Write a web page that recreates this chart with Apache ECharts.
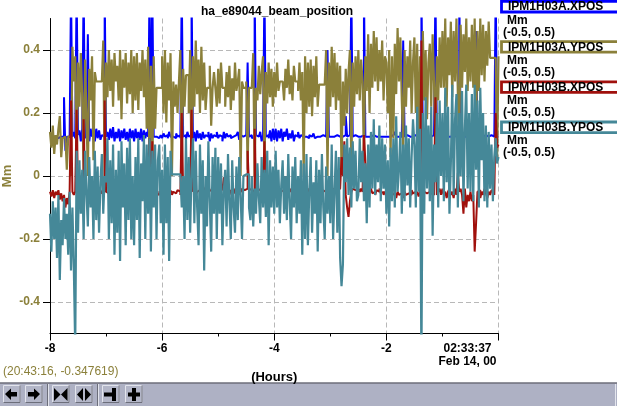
<!DOCTYPE html>
<html>
<head>
<meta charset="utf-8">
<title>ha_e89044_beam_position</title>
<script src="https://cdn.jsdelivr.net/npm/echarts@6/dist/echarts.min.js"></script>
<style>
html, body { margin: 0; padding: 0; background: #fff; }
#chart { width: 617px; height: 406px; }
</style>
</head>
<body>
<div id="chart"></div>
<script>
// archive samples: one point every 0.025 h, from -8 h up to now (0 h)
var startHour = -8;
var stepHour = 0.025;

var seriesNames = ['IPM1H03A.XPOS', 'IPM1H03A.YPOS', 'IPM1H03B.XPOS', 'IPM1H03B.YPOS'];
var seriesColors = ['#0000ff', '#8b803a', '#a0100c', '#458898'];
var seriesWidths = [2, 2.2, 2, 2.2];
var unitText = 'Mm';
var rangeText = '(-0.5, 0.5)';

var yTicks = [-0.4, -0.2, 0, 0.2, 0.4];
var lastTickLabel = ['02:33:37', 'Feb 14, 00'];
var cursorText = '(20:43:16, -0.347619)';

var xposA = [
    0.125, 0.125, 0.125, 0.125, 0.125, 0.12, 0.12, 0.125, 0.125, 0.125, 0.25, 0.08, 0.125, 0.125, 0.125, 0.6, 0.125, 0.14, 0.12, 0.6,
    0.13, 0.145, 0.11, 0.15, 0.6, 0.12, 0.14, 0.45, 0.11, 0.15, 0.125, 0.14, 0.11, 0.15, 0.12, 0.145, 0.115, 0.13, 0.125, 0.6,
    0.125, 0.14, 0.115, 0.15, 0.12, 0.155, 0.11, 0.14, 0.12, 0.15, 0.11, 0.145, 0.12, 0.15, 0.115, 0.14, 0.11, 0.15, 0.12, 0.145,
    0.11, 0.15, 0.12, 0.14, 0.115, 0.15, 0.11, 0.145, 0.12, 0.14, 0.125, 0.6, 0.125, 0.6, 0.125, 0.125, 0.13, 0.12, 0.125, 0.13,
    0.12, 0.135, 0.125, 0.13, 0.12, 0.14, 0.125, 0.125, 0.13, 0.12, 0.135, 0.125, 0.13, 0.12, 0.6, 0.125, 0.13, 0.115, 0.14, 0.125,
    0.13, 0.6, 0.12, 0.14, 0.11, 0.145, 0.12, 0.135, 0.115, 0.14, 0.12, 0.13, 0.125, 0.14, 0.11, 0.135, 0.12, 0.13, 0.125, 0.14,
    0.12, 0.13, 0.125, 0.11, 0.14, 0.12, 0.135, 0.125, 0.13, 0.12, 0.125, 0.125, 0.13, 0.125, 0.14, 0.115, 0.13, 0.125, 0.125, 0.13,
    0.125, 0.36, 0.125, 0.13, 0.12, 0.125, 0.6, 0.13, 0.125, 0.12, 0.14, 0.11, 0.13, 0.6, 0.125, 0.13, 0.12, 0.145, 0.11, 0.15,
    0.115, 0.15, 0.11, 0.145, 0.12, 0.15, 0.11, 0.14, 0.125, 0.15, 0.115, 0.135, 0.12, 0.145, 0.11, 0.13, 0.125, 0.14, 0.12, 0.13,
    0.125, 0.13, 0.125, 0.125, 0.12, 0.13, 0.125, 0.125, 0.135, 0.12, 0.125, 0.13, 0.125, 0.125, 0.13, 0.125, 0.125, 0.13, 0.4, 0.125,
    0.125, 0.13, 0.125, 0.125, 0.13, 0.125, 0.125, 0.13, 0.125, 0.125, 0.13, 0.19, 0.125, 0.13, 0.135, 0.6, 0.125, 0.13, 0.125, 0.125,
    0.13, 0.125, 0.125, 0.13, 0.6, 0.125, 0.125, 0.13, 0.125, 0.125, 0.13, 0.125, 0.125, 0.13, 0.125, 0.125, 0.125, 0.13, 0.125, 0.125,
    0.125, 0.13, 0.125, 0.125, 0.13, 0.125, 0.14, 0.125, 0.125, 0.13, 0.125, 0.125, 0.43, 0.125, 0.13, 0.125, 0.125, 0.13, 0.125, 0.125,
    0.13, 0.125, 0.125, 0.13, 0.125, 0.6, 0.125, 0.13, 0.125, 0.125, 0.13, 0.125, 0.125, 0.13, 0.125, 0.6, 0.125, 0.125, 0.13, 0.125,
    0.125, 0.13, 0.125, 0.125, 0.13, 0.125, 0.125, 0.13, 0.125, 0.125, 0.125, 0.13, 0.6, 0.125, 0.125, 0.13, 0.125, 0.125, 0.13, 0.125,
    0.125, 0.13, 0.125, 0.125, 0.46, 0.125, 0.125, 0.13, 0.125, 0.125, 0.13, 0.125, 0.125, 0.125, 0.13, 0.125, 0.125, 0.125, 0.6, 0.125, 0.125
];
var yposA = [
    0.14, 0.09, 0.16, 0.07, 0.13, 0.1, 0.15, 0.19, 0.06, 0.12, 0.125, 0.125, 0.02, 0.125, 0.125, 0.0, 0.41, 0.3, 0.38, 0.0,
    0.36, 0.22, 0.39, 0.25, 0.0, 0.37, 0.2, 0.0, 0.34, 0.24, 0.38, 0.05, 0.33, 0.3, 0.3, 0.3, 0.3, 0.3, 0.43, 0.0,
    0.36, 0.25, 0.4, 0.27, 0.37, 0.22, 0.39, 0.3, 0.35, 0.24, 0.4, 0.18, 0.37, 0.28, 0.39, 0.23, 0.36, 0.26, 0.4, 0.2,
    0.38, 0.24, 0.39, 0.21, 0.36, 0.27, 0.4, 0.25, 0.37, 0.15, 0.41, 0.0, 0.35, 0.0, 0.38, 0.15, 0.28, 0.28, 0.28, 0.28,
    0.38, 0.2, 0.4, 0.17, 0.36, 0.24, 0.39, 0.0, 0.3, 0.22, 0.29, 0.2, 0.3, 0.4, 0.0, 0.34, 0.22, 0.32, 0.32, 0.2,
    0.4, 0.0, 0.38, 0.22, 0.43, 0.26, 0.37, 0.2, 0.41, 0.24, 0.36, 0.21, 0.28, 0.28, 0.35, 0.16, 0.28, 0.33, 0.28, 0.22,
    0.34, 0.23, 0.36, 0.28, 0.28, 0.22, 0.33, 0.25, 0.35, 0.21, 0.31, 0.24, 0.36, 0.27, 0.3, 0.34, 0.0, 0.3, 0.28, 0.28,
    0.3, 0.02, 0.28, 0.28, 0.28, 0.39, 0.0, 0.28, 0.24, 0.35, 0.26, 0.33, 0.38, 0.0, 0.33, 0.23, 0.36, 0.25, 0.34, 0.22,
    0.33, 0.25, 0.36, 0.27, 0.3, 0.3, 0.3, 0.24, 0.34, 0.28, 0.37, 0.26, 0.32, 0.24, 0.35, 0.3, 0.3, 0.27, 0.36, 0.24,
    0.33, 0.0, 0.38, 0.2, 0.36, 0.22, 0.37, 0.19, 0.35, 0.25, 0.38, 0.22, 0.29, 0.29, 0.29, 0.29, 0.29, 0.4, 0.0, 0.36,
    0.22, 0.41, 0.25, 0.39, 0.21, 0.36, 0.24, 0.35, 0.01, 0.3, 0.16, 0.34, 0.2, 0.33, 0.4, 0.0, 0.36, 0.22, 0.38, 0.26,
    0.4, 0.24, 0.37, 0.3, 0.05, 0.38, 0.27, 0.45, 0.2, 0.42, 0.28, 0.46, 0.3, 0.44, 0.27, 0.4, 0.3, 0.43, 0.24, 0.38,
    0.36, 0.2, 0.4, 0.06, 0.38, 0.12, 0.42, 0.26, 0.47, 0.3, 0.44, 0.24, 0.08, 0.4, 0.22, 0.38, 0.28, 0.43, 0.2, 0.36,
    0.44, 0.2, 0.42, 0.06, 0.38, 0.15, 0.46, 0.24, 0.4, 0.18, 0.36, 0.42, 0.22, 0.45, 0.3, 0.08, 0.38, 0.24, 0.44, 0.28,
    0.46, 0.28, 0.5, 0.22, 0.44, 0.32, 0.49, 0.25, 0.46, 0.3, 0.5, 0.26, 0.1, 0.48, 0.28, 0.45, 0.33, 0.5, 0.27, 0.44,
    0.3, 0.48, 0.28, 0.5, 0.1, 0.46, 0.27, 0.5, 0.32, 0.48, 0.3, 0.46, 0.35, 0.49, 0.375, 0.375, 0.375, 0.375, 0.375, 0.05, 0.38
];
var xposB = [
    -0.05, -0.065, -0.045, -0.07, -0.05, -0.06, -0.045, -0.075, -0.055, -0.08, -0.06, -0.1, -0.07, -0.09, -0.05, 0.24, -0.05, -0.06, -0.05, 0.21,
    -0.05, -0.055, -0.05, -0.06, 0.18, -0.05, -0.055, -0.05, -0.06, -0.05, -0.045, -0.055, -0.05, -0.06, -0.05, -0.045, -0.05, -0.055, -0.05, 0.24,
    -0.05, -0.055, -0.05, -0.06, -0.05, -0.045, -0.05, -0.055, -0.05, -0.06, -0.05, -0.055, -0.045, -0.05, -0.06, -0.05, -0.055, -0.05, -0.045, -0.05,
    -0.05, -0.055, -0.05, -0.06, -0.05, -0.045, -0.05, -0.055, -0.05, -0.06, -0.05, 0.12, -0.05, 0.11, -0.05, -0.055, -0.05, -0.06, -0.05, -0.045,
    -0.05, -0.06, -0.05, -0.055, -0.05, -0.045, -0.05, -0.06, -0.05, -0.055, -0.05, -0.045, -0.05, -0.06, 0.2, -0.05, -0.06, -0.05, -0.045, -0.06,
    -0.05, 0.21, -0.05, -0.04, -0.06, -0.05, -0.045, -0.06, -0.05, -0.04, -0.05, -0.035, -0.04, -0.05, -0.045, -0.05, -0.035, -0.055, -0.04, -0.05,
    -0.05, -0.04, -0.045, -0.05, -0.005, -0.01, -0.05, -0.04, -0.06, -0.045, -0.05, -0.04, -0.055, -0.05, -0.06, -0.045, -0.05, -0.04, -0.045, -0.05,
    -0.04, 0.08, -0.04, -0.045, -0.04, -0.05, 0.15, -0.04, -0.045, -0.05, -0.04, -0.045, -0.05, 0.11, -0.05, -0.045, -0.04, -0.05, -0.045, -0.04,
    -0.045, -0.05, -0.04, -0.05, -0.045, -0.04, -0.05, -0.045, 0.0, -0.045, -0.05, -0.04, -0.05, -0.045, -0.04, -0.05, -0.045, -0.05, -0.04, -0.045,
    -0.05, -0.045, -0.05, -0.04, -0.05, -0.045, -0.05, -0.04, -0.05, -0.045, -0.04, -0.05, -0.045, -0.05, -0.04, -0.05, -0.045, -0.05, -0.05, -0.045,
    -0.045, -0.05, -0.04, -0.05, -0.045, -0.05, -0.04, -0.045, 0.06, 0.0, 0.11, -0.06, -0.1, -0.13, -0.08, -0.05, -0.04, -0.045, -0.05, -0.04,
    -0.045, -0.05, -0.04, -0.05, 0.13, 0.05, -0.04, -0.06, -0.05, -0.04, -0.055, -0.05, -0.06, -0.045, -0.05, -0.04, -0.055, -0.05, -0.06, -0.05,
    -0.06, -0.055, -0.05, -0.065, -0.055, -0.06, -0.05, -0.07, -0.05, -0.06, -0.055, -0.05, -0.07, -0.05, -0.06, -0.055, -0.05, -0.06, -0.045, -0.055,
    -0.05, -0.06, -0.05, -0.065, -0.05, 0.43, -0.06, -0.05, -0.055, -0.06, -0.05, -0.04, -0.055, -0.06, -0.05, 0.25, -0.06, -0.05, -0.04, -0.06,
    -0.04, -0.06, -0.05, -0.07, -0.05, -0.04, -0.06, -0.05, -0.07, -0.04, -0.06, 0.01, -0.05, -0.04, -0.06, -0.12, -0.04, -0.1, -0.06, -0.08,
    -0.05, -0.08, -0.06, -0.24, -0.15, -0.05, -0.045, -0.07, -0.05, -0.06, -0.04, -0.055, -0.07, -0.05, -0.06, -0.045, -0.05, -0.06, 0.2, 0.09, 0.1
];
var yposB = [
    -0.12, -0.24, -0.08, -0.2, -0.1, -0.26, -0.06, -0.33, -0.14, -0.22, -0.07, -0.2, -0.12, -0.25, -0.05, -0.3, -0.1, -0.29, -0.55, 0.08,
    -0.18, 0.05, -0.12, 0.02, -0.2, 0.08, -0.05, -0.16, 0.06, -0.1, 0.0, -0.2, 0.08, -0.14, 0.03, -0.18, -0.02, 0.07, -0.12, 0.0,
    -0.02, 0.12, -0.2, 0.05, -0.15, 0.1, -0.25, 0.02, -0.18, 0.08, -0.27, 0.11, -0.1, 0.04, -0.22, 0.09, -0.14, 0.12, -0.2, 0.0,
    -0.22, 0.06, -0.14, 0.12, -0.26, 0.04, -0.08, 0.13, -0.2, 0.1, -0.12, 0.12, -0.24, 0.08, -0.1, 0.1, -0.2, 0.05, 0.1, -0.15,
    0.02, -0.25, 0.1, -0.15, 0.06, -0.27, 0.08, 0.005, 0.005, 0.005, 0.005, 0.005, 0.005, 0.005, -0.1, 0.0, -0.2, 0.12, -0.14, 0.06,
    -0.18, 0.02, 0.12, -0.15, 0.08, -0.1, -0.22, 0.1, -0.12, 0.05, -0.3, 0.0, -0.16, 0.11, -0.08, -0.24, 0.06, -0.12, 0.09, -0.2,
    0.06, -0.12, 0.04, -0.22, -0.05, 0.02, -0.16, 0.07, -0.08, -0.2, 0.05, -0.1, -0.18, 0.03, -0.14, 0.06, -0.06, -0.2, 0.0, 0.005,
    0.005, 0.005, -0.1, -0.14, 0.0, -0.16, -0.04, -0.12, 0.04, -0.07, -0.15, 0.06, -0.1, 0.02, -0.13, 0.08, -0.22, 0.05, -0.1, 0.03,
    -0.12, 0.08, -0.1, 0.02, -0.15, -0.03, 0.05, -0.12, 0.0, -0.14, 0.07, -0.08, -0.2, 0.03, -0.1, 0.06, -0.15, 0.0, -0.12, 0.05,
    -0.25, 0.04, -0.2, 0.07, -0.22, -0.05, 0.06, -0.18, -0.02, -0.12, 0.05, -0.24, 0.02, -0.15, 0.07, -0.1, -0.2, 0.03, -0.12, 0.0,
    -0.15, 0.1, -0.2, -0.05, 0.08, -0.18, 0.06, -0.26, -0.35, -0.28, 0.1, -0.02, 0.12, -0.06, 0.09, -0.1, 0.11, -0.04, 0.08, -0.08,
    -0.06, 0.12, -0.02, 0.08, -0.08, 0.04, -0.15, 0.1, -0.1, 0.14, -0.04, 0.18, -0.06, 0.1, -0.02, 0.16, -0.08, 0.12, -0.04, 0.1,
    -0.12, 0.05, -0.16, 0.09, -0.08, 0.12, -0.1, 0.19, -0.05, 0.02, 0.14, -0.12, 0.1, -0.08, 0.16, -0.03, 0.12, -0.1, 0.06, 0.18,
    0.1, -0.1, 0.22, -0.05, 0.15, -0.6, 0.2, -0.12, 0.25, -0.04, 0.16, -0.08, 0.22, -0.19, 0.1, -0.02, 0.2, -0.1, 0.24, 0.0,
    0.2, -0.08, 0.28, -0.02, 0.22, -0.12, 0.04, 0.29, -0.06, 0.18, 0.26, -0.1, 0.2, 0.0, 0.27, -0.08, 0.15, 0.29, -0.04, 0.2,
    -0.05, 0.26, -0.08, 0.29, 0.02, 0.24, -0.1, 0.28, 0.05, 0.2, -0.08, 0.16, -0.1, 0.14, -0.04, 0.1, -0.08, 0.06, 0.12, 0.04, 0.06
];
var seriesValues = [xposA, yposA, xposB, yposB];

var fontFamily = '"Liberation Sans", Arial, sans-serif';
var olive = '#8b803a';

function toPoints(values) {
    return values.map(function (v, i) {
        return [startHour + i * stepHour, v];
    });
}

// legend boxes on the right
var legendItems = [];
seriesNames.forEach(function (name, k) {
    var top = k * 40.2;
    legendItems.push({
        type: 'rect',
        shape: { x: 501.5, y: top + 1.4, width: 117, height: 10.6 },
        style: { fill: '#fff', stroke: seriesColors[k], lineWidth: 2.8 }
    });
    legendItems.push({
        type: 'text', x: 508, y: top + 7,
        style: { text: name, fill: '#000', font: 'bold 12px ' + fontFamily, textVerticalAlign: 'middle' }
    });
    legendItems.push({
        type: 'text', x: 507, y: top + 20.5,
        style: { text: unitText, fill: '#000', font: 'bold 12px ' + fontFamily, textVerticalAlign: 'middle' }
    });
    legendItems.push({
        type: 'text', x: 503, y: top + 32.5,
        style: { text: rangeText, fill: '#000', font: 'bold 12px ' + fontFamily, textVerticalAlign: 'middle' }
    });
});

// toolbar at the bottom
var bar = [];
bar.push({ type: 'rect', shape: { x: 0, y: 383, width: 617, height: 23 }, style: { fill: '#aeb1c4' } });
bar.push({ type: 'line', shape: { x1: 0, y1: 383, x2: 617, y2: 383 }, style: { stroke: '#6c6e7a', lineWidth: 1.5 } });
bar.push({ type: 'line', shape: { x1: 615.5, y1: 384, x2: 615.5, y2: 406 }, style: { stroke: '#e4e6ee', lineWidth: 1 } });
[3, 25, 52, 75, 102, 125].forEach(function (bx) {
    bar.push({ type: 'rect', shape: { x: bx + 0.5, y: 385.5, width: 16.5, height: 17 }, style: { fill: '#b3b6c8', stroke: '#e2e4ec', lineWidth: 1 } });
    bar.push({ type: 'polyline', shape: { points: [[bx + 17, 385.5], [bx + 17, 402.5], [bx + 0.5, 402.5]] }, style: { stroke: '#6c6e7a', lineWidth: 1, fill: null } });
});
[47.5, 97.5].forEach(function (sx) {
    bar.push({ type: 'line', shape: { x1: sx, y1: 384, x2: sx, y2: 406 }, style: { stroke: '#6c6e7a', lineWidth: 1 } });
    bar.push({ type: 'line', shape: { x1: sx + 1, y1: 384, x2: sx + 1, y2: 406 }, style: { stroke: '#e2e4ec', lineWidth: 1 } });
});
var icons = [
    [[5, 394], [11, 388.5], [11, 392], [17, 392], [17, 396.5], [11, 396.5], [11, 400]],
    [[40, 394], [34, 388.5], [34, 392], [28, 392], [28, 396.5], [34, 396.5], [34, 400]],
    [[54, 388], [60.5, 394.5], [54, 401]],
    [[67.5, 388], [61, 394.5], [67.5, 401]],
    [[83, 388], [77, 394.5], [83, 401]],
    [[85, 388], [91, 394.5], [85, 401]],
    [[104, 392.5], [112, 392.5], [112, 388], [116, 388], [116, 401], [112, 401], [112, 396.5], [104, 396.5]],
    [[128, 392.5], [132, 392.5], [132, 388], [136, 388], [136, 392.5], [140, 392.5], [140, 396.5], [136, 396.5], [136, 401], [132, 401], [132, 396.5], [128, 396.5]]
];
icons.forEach(function (pts) {
    bar.push({ type: 'polygon', shape: { points: pts }, style: { fill: '#000' } });
});

var myChart = echarts.init(document.getElementById('chart'), null, { renderer: 'canvas' });

myChart.setOption({
    animation: false,
    backgroundColor: '#fff',
    title: {
        text: 'ha_e89044_beam_position',
        left: 196,
        top: 1,
        textStyle: { fontSize: 12, fontWeight: 'bold', color: '#000', fontFamily: fontFamily }
    },
    grid: { left: 50, top: 18.5, right: 118.5, bottom: 72.5, containLabel: false, outerBoundsMode: 'none' },
    xAxis: {
        type: 'value',
        min: -8,
        max: 0,
        interval: 2,
        name: '(Hours)',
        nameLocation: 'middle',
        nameGap: 37,
        nameMoveOverlap: false,
        nameTextStyle: { fontSize: 13, fontWeight: 'bold', color: '#000', fontFamily: fontFamily },
        axisLine: { onZero: false, lineStyle: { color: '#000', width: 1 } },
        axisTick: { length: 7, lineStyle: { color: '#000' } },
        minorTick: { show: true, splitNumber: 2, length: 3, lineStyle: { color: '#000' } },
        axisLabel: {
            margin: 9,
            color: '#000',
            fontSize: 12,
            fontWeight: 'bold',
            fontFamily: fontFamily,
            alignMaxLabel: 'right',
            formatter: function (v) {
                if (v === 0) {
                    return '{t|' + lastTickLabel[0] + '}\n{t|' + lastTickLabel[1] + '}';
                }
                return String(v);
            },
            rich: {
                t: { fontSize: 12, fontWeight: 'bold', fontFamily: fontFamily, color: '#000', width: 62, align: 'center', lineHeight: 13 }
            }
        },
        splitLine: { show: true, showMinLine: false, lineStyle: { color: '#b8b8b8', type: [5, 3], width: 1 } }
    },
    yAxis: {
        type: 'value',
        min: -0.5,
        max: 0.5,
        interval: 0.1,
        name: 'Mm',
        nameLocation: 'middle',
        nameGap: 36,
        nameMoveOverlap: false,
        nameTextStyle: { fontSize: 13, fontWeight: 'bold', color: olive, fontFamily: fontFamily },
        axisLine: { show: true, onZero: false, lineStyle: { color: '#000', width: 1 } },
        axisTick: { show: true, length: 7, customValues: yTicks, lineStyle: { color: '#000' } },
        axisLabel: {
            customValues: yTicks,
            margin: 10,
            color: olive,
            fontSize: 12,
            fontWeight: 'bold',
            fontFamily: fontFamily,
            formatter: function (v) {
                return v === 0 ? '0' : v.toFixed(1);
            }
        },
        splitLine: { show: true, lineStyle: { color: '#b8b8b8', type: [5, 3], width: 1 } }
    },
    series: seriesNames.map(function (name, k) {
        return {
            name: name,
            type: 'line',
            step: 'end',
            symbol: 'none',
            clip: true,
            silent: true,
            data: toPoints(seriesValues[k]),
            lineStyle: { color: seriesColors[k], width: seriesWidths[k] },
            itemStyle: { color: seriesColors[k] }
        };
    }),
    graphic: legendItems.concat(bar).concat([{
        type: 'text', x: 3, y: 372,
        style: { text: cursorText, fill: olive, font: '12px ' + fontFamily, textVerticalAlign: 'middle' }
    }])
});
</script>
</body>
</html>
